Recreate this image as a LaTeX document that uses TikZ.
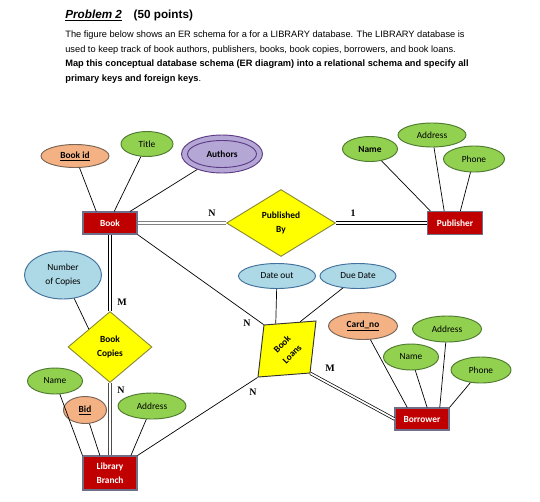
\documentclass[tikz,border=0pt]{standalone}
\usepackage{fontspec}
\setmainfont{Liberation Sans}
\newfontfamily\erfont{Carlito}
\newfontfamily\cardfont{Liberation Serif}
\usepackage{xcolor}
\usetikzlibrary{positioning, shapes.geometric, calc}

\definecolor{entred}{HTML}{C00000}
\definecolor{entline}{HTML}{6F6F8A}
\definecolor{attgreen}{HTML}{92D050}
\definecolor{attgreenline}{HTML}{4E7B2F}
\definecolor{attorange}{HTML}{F4B183}
\definecolor{attorangeline}{HTML}{7A6455}
\definecolor{attblue}{HTML}{ADD8E6}
\definecolor{attblueline}{HTML}{41719C}
\definecolor{attpurple}{HTML}{B4A7D6}
\definecolor{attpurpleline}{HTML}{5E3C86}
\definecolor{relyellow}{HTML}{FFFF00}
\definecolor{relline}{HTML}{8A8A3A}

\begin{document}
\begin{tikzpicture}[x=0.03cm, y=-0.03cm, line width=0.6pt,
    erlabel/.style={font=\erfont\fontsize{8}{12}\selectfont, align=center, inner sep=0pt},
    erbold/.style={font=\erfont\bfseries\fontsize{8}{12}\selectfont},
    entity/.style={erlabel, erbold, rectangle, draw=entline, fill=entred, text=white, line width=0.9pt},
    attr/.style={erlabel, ellipse, line width=0.8pt},
    attrgreen/.style={attr, draw=attgreenline, fill=attgreen},
    attrkey/.style={attr, erbold, draw=attorangeline, fill=attorange},
    attrblue/.style={attr, draw=attblueline, fill=attblue},
    multiattr/.style={attr, erbold, draw=attpurpleline, fill=attpurple},
    relship/.style={erlabel, erbold, diamond, draw=relline, fill=relyellow, line width=0.8pt},
    total/.style={double, double distance=1.5pt, line width=0.6pt},
    cardlbl/.style={font=\cardfont\bfseries\fontsize{8.5}{10}\selectfont, inner sep=0pt}]

      \path[use as bounding box, fill=white] (0,0) rectangle (540,501);

      % Problem text
      \node[anchor=base west, inner sep=0pt, font=\bfseries\fontsize{10}{12}\selectfont] (problem) at (65,18) {
        \underline{\itshape Problem 2}\hspace{1em}(50 points)
      };
      \node[anchor=north west, inner sep=0pt, align=left, font=\fontsize{7.9}{12.76}\selectfont] (desc) at (65,30) {
        The figure below shows an ER schema for a for a LIBRARY database. The LIBRARY database is\\
        used to keep track of book authors, publishers, books, book copies, borrowers, and book loans.\\
        \textbf{Map this conceptual database schema (ER diagram) into a relational schema and specify all}\\
        \textbf{primary keys and foreign keys}.
      };

      % Entities
      \node[entity, minimum width=1.62cm, minimum height=0.66cm] (book) at (110,223) {Book};
      \node[entity, minimum width=1.65cm, minimum height=0.69cm] (publisher) at (455,223) {Publisher};
      \node[entity, minimum width=1.62cm, minimum height=1.02cm] (branch) at (110,473) {Library\\Branch};
      \node[entity, minimum width=1.62cm, minimum height=0.66cm] (borrower) at (422,419) {Borrower};

      % Relationships
      \node[relship, minimum width=3.27cm, minimum height=2.01cm] (pubby) at (281,223) {Published\\By};
      \node[relship, minimum width=2.52cm, minimum height=2.13cm] (copies) at (110,347) {Book\\Copies};
      \node[rectangle, draw=black!80, fill=relyellow, line width=0.8pt, minimum size=1.56cm,
            cm={1,0.077,0.115,1,(0,0)}, transform shape] (loans) at (287,349) {};
      \node[erlabel, erbold, rotate=45] (loanstxt) at (loans) {Book\\Loans};

      % Book attributes
      \node[attrkey, minimum width=2.04cm, minimum height=0.69cm] (bookid) at (75,156) {\underline{Book id}};
      \node[attrgreen, minimum width=1.56cm, minimum height=0.75cm] (title) at (147,144) {Title};
      \node[multiattr, minimum width=2.43cm, minimum height=1.14cm] (authors) at (222,154) {};
      \node[multiattr, minimum width=2.07cm, minimum height=0.81cm] (authorsin) at (authors) {Authors};

      % Publisher attributes
      \node[attrgreen, erbold, minimum width=1.65cm, minimum height=0.75cm] (pubname) at (370,149) {Name};
      \node[attrgreen, minimum width=2.04cm, minimum height=0.72cm] (pubaddr) at (432,135) {Address};
      \node[attrgreen, minimum width=1.83cm, minimum height=0.78cm] (pubphone) at (474,159) {Phone};

      % Book copies and branch attributes
      \node[attrblue, minimum width=2.31cm, minimum height=1.44cm] (numcopies) at (63,275) {Number\\of Copies};
      \node[attrgreen, minimum width=1.65cm, minimum height=0.78cm] (brname) at (55,381) {Name};
      \node[attrkey, minimum width=1.29cm, minimum height=0.81cm] (bid) at (85,410) {\underline{Bid}};
      \node[attrgreen, minimum width=2.04cm, minimum height=0.78cm] (braddr) at (152,406) {Address};

      % Book loans attributes
      \node[attrblue, minimum width=2.31cm, minimum height=0.75cm] (dateout) at (277,276) {Date out};
      \node[attrblue, minimum width=2.28cm, minimum height=0.75cm] (duedate) at (358,276) {Due Date};

      % Borrower attributes
      \node[attrkey, minimum width=2.07cm, minimum height=0.81cm] (cardno) at (363,326) {\underline{Card\_no}};
      \node[attrgreen, minimum width=2.07cm, minimum height=0.78cm] (boraddr) at (447,329) {Address};
      \node[attrgreen, minimum width=1.65cm, minimum height=0.78cm] (borname) at (411,357) {Name};
      \node[attrgreen, minimum width=1.80cm, minimum height=0.78cm] (borphone) at (481,370) {Phone};

      % Attribute lines
      \draw (bookid) -- (book.140);
      \draw (title) -- (book.70);
      \draw (authors) -- (book.30);
      \draw (pubname) -- (publisher.154);
      \draw (pubaddr) -- (publisher.132);
      \draw (pubphone) -- (publisher.66);
      \draw (numcopies) -- (copies.north west);
      \draw (brname) -- (branch.north west);
      \draw (bid) -- (branch.120);
      \draw (braddr) -- (branch.40);
      \draw (dateout) -- ($(loans.north west)!0.23!(loans.north east)$);
      \draw (duedate) -- ($(loans.north west)!0.69!(loans.north east)$);
      \draw (cardno) -- (borrower.142);
      \draw (borname) -- (borrower.66);
      \draw (boraddr) -- (borrower.33);
      \draw (borphone) -- (borrower.north east);

      % Relationship lines
      \draw[total, draw=gray] (book) -- (pubby);
      \draw[total] (pubby) -- (publisher);
      \draw[total] (book) -- (copies);
      \draw[total, draw=black!70] (copies) -- (branch);
      \draw (book.south east) -- (loans.north west);
      \draw (branch.north east) -- (loans.south west);
      \draw[total] (loans.south east) -- (borrower.west);

      % Cardinalities
      \node[cardlbl] (cardpn) at (212,213) {N};
      \node[cardlbl] (cardp1) at (353,213) {1};
      \node[cardlbl] (cardcm) at (122,302) {M};
      \node[cardlbl] (cardcn) at (121,390) {N};
      \node[cardlbl] (cardbn) at (247,323) {N};
      \node[cardlbl] (cardln) at (253,392) {N};
      \node[cardlbl] (cardlm) at (330,368) {M};
\end{tikzpicture}
\end{document}
